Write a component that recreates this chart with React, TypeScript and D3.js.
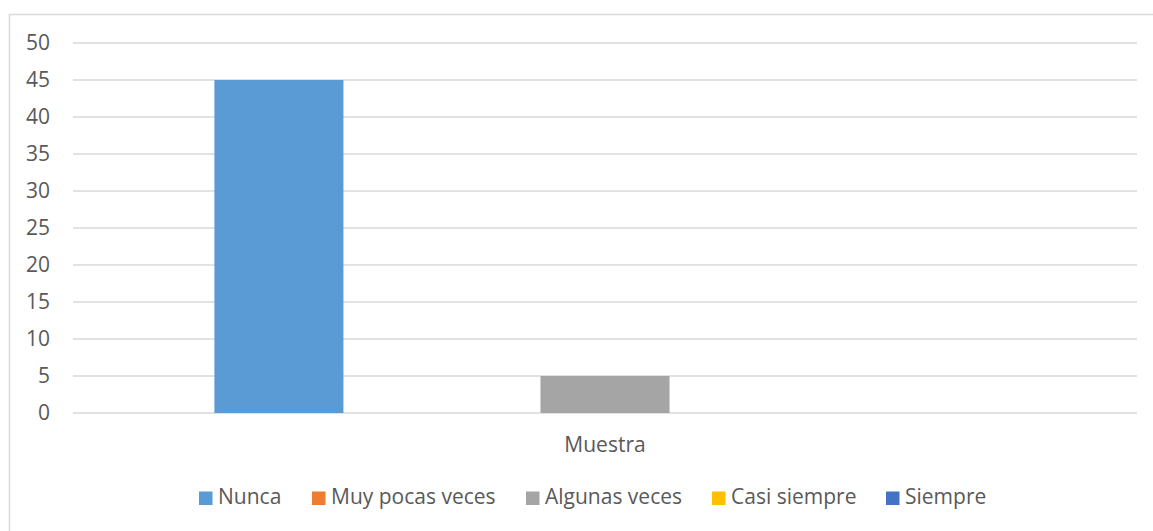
import React, { useEffect, useRef } from 'react';
import * as d3 from 'd3';

const categories = ['Muestra'];
const seriesNames = ['Nunca', 'Muy pocas veces', 'Algunas veces', 'Casi siempre', 'Siempre'];
const seriesValues = [45, 0, 5, 0, 0];
const seriesColors = ['#5b9bd5', '#ed7d31', '#a5a5a5', '#ffc000', '#4472c4'];
const yTicks = [0, 5, 10, 15, 20, 25, 30, 35, 40, 45, 50];

const W = 1153;
const H = 531;
const FONT = "'Open Sans', 'Noto Sans', sans-serif";
const FS = '21px';

const App: React.FC = () => {
  const ref = useRef<SVGSVGElement>(null);

  useEffect(() => {
    if (!ref.current) return;
    const svg = d3.select(ref.current);
    svg.selectAll('*').remove();

    const left = 73, right = 1137, top = 43, bottom = 413;

    // chart frame
    svg.append('rect')
      .attr('x', 9.5).attr('y', 14.5)
      .attr('width', W).attr('height', H)
      .attr('fill', 'white')
      .attr('stroke', '#d9d9d9')
      .attr('stroke-width', 1.5);

    const y = d3.scaleLinear().domain([0, 50]).range([bottom, top]);
    const x0 = d3.scaleBand<string>().domain(categories).range([left, right]).paddingInner(0).paddingOuter(0.181);
    const x1 = d3.scaleBand<string>().domain(seriesNames).range([0, x0.bandwidth()]).paddingInner(0.2086).paddingOuter(0);

    // gridlines
    svg.append('g').selectAll('line')
      .data(yTicks)
      .join('line')
      .attr('x1', left).attr('x2', right)
      .attr('y1', d => y(d)).attr('y2', d => y(d))
      .attr('stroke', '#d9d9d9')
      .attr('stroke-width', 1.5);

    // y labels
    svg.append('g').selectAll('text')
      .data(yTicks)
      .join('text')
      .attr('x', 50)
      .attr('y', d => y(d))
      .attr('dy', '0.35em')
      .attr('text-anchor', 'end')
      .attr('fill', '#595959')
      .style('font-family', FONT)
      .style('font-size', FS)
      .text(d => d);

    // bars
    categories.forEach(cat => {
      const g = svg.append('g').attr('transform', `translate(${x0(cat)},0)`);
      g.selectAll('rect')
        .data(seriesNames.map((s, i) => ({ s, v: seriesValues[i], c: seriesColors[i] })))
        .join('rect')
        .attr('x', d => x1(d.s) as number)
        .attr('y', d => y(d.v))
        .attr('width', x1.bandwidth())
        .attr('height', d => bottom - y(d.v))
        .attr('fill', d => d.c);

      svg.append('text')
        .attr('x', (x0(cat) as number) + x0.bandwidth() / 2)
        .attr('y', 445)
        .attr('dy', '0.35em')
        .attr('text-anchor', 'middle')
        .attr('fill', '#595959')
        .style('font-family', FONT)
        .style('font-size', FS)
        .text(cat);
    });

    // legend
    const legendX = [199, 312, 526, 712, 886];
    const lg = svg.append('g');
    seriesNames.forEach((s, i) => {
      lg.append('rect')
        .attr('x', legendX[i]).attr('y', 491.5)
        .attr('width', 13.5).attr('height', 13.5)
        .attr('fill', seriesColors[i]);
      lg.append('text')
        .attr('x', legendX[i] + 19)
        .attr('y', 497)
        .attr('dy', '0.35em')
        .attr('fill', '#595959')
        .style('font-family', FONT)
        .style('font-size', FS)
        .text(s);
    });
  }, []);

  return (
    <svg ref={ref} width={W} height={H} style={{ position: 'absolute', left: 0, top: 0, background: 'white' }}></svg>
  );
};

export default App;
